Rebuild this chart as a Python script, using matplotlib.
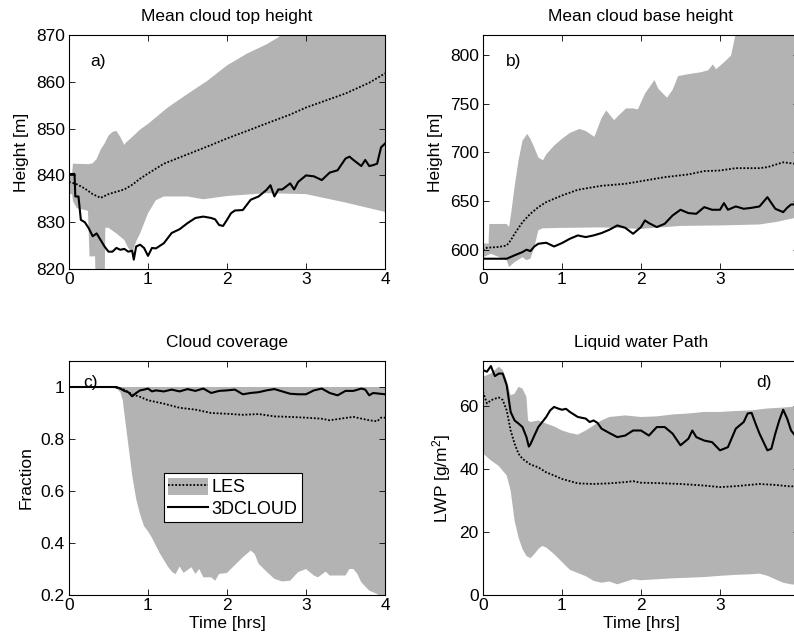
import numpy as np
import matplotlib.pyplot as plt
from matplotlib.patches import Patch
from matplotlib.lines import Line2D

plt.rcParams['font.family'] = ['Liberation Sans', 'DejaVu Sans']
plt.rcParams['mathtext.default'] = 'regular'

""" DATOS """
# a) altura media del tope de nube
t_a_les = [0, 0.1, 0.2, 0.3, 0.4, 0.5, 0.6, 0.7, 0.8, 0.9, 1.0, 1.2, 1.5, 1.8, 2.0, 2.3, 2.5, 2.8, 3.0, 3.3, 3.5, 3.8, 4.0]
a_les = [838.6, 838.1, 837.2, 836.0, 835.2, 836.0, 836.5, 837.0, 838.0, 839.3, 840.4, 842.5, 844.5, 846.5, 847.9, 849.8, 851.1, 853.0, 854.5, 856.3, 857.5, 859.8, 861.8]
t_a_up = [0, 0.04, 0.05, 0.25, 0.3, 0.35, 0.4, 0.45, 0.5, 0.55, 0.6, 0.65, 0.7, 0.72, 0.8, 0.9, 1.0, 1.25, 1.5, 1.75, 2.0, 2.25, 2.5, 2.65, 2.75, 3.0, 3.5, 4.0]
a_up = [840.5, 840.5, 842.5, 842.4, 842.6, 843.5, 845.5, 846.8, 848.5, 849.3, 849.5, 848.2, 846.5, 847.0, 848.2, 849.8, 851.0, 854.5, 857.4, 860.2, 863.5, 866.0, 868.0, 869.5, 871.0, 872.0, 875.0, 878.0]
t_a_lo = [0, 0.04, 0.05, 0.1, 0.2, 0.24, 0.26, 0.33, 0.34, 0.45, 0.46, 0.5, 0.6, 0.7, 0.75, 0.8, 0.85, 0.9, 1.0, 1.1, 1.2, 1.5, 1.7, 2.0, 2.5, 3.0, 3.5, 4.0]
a_lo = [836.0, 836.0, 834.5, 833.0, 832.6, 832.4, 822.7, 822.7, 815.0, 815.0, 828.8, 828.8, 827.6, 826.2, 824.5, 823.4, 825.9, 827.6, 831.9, 834.7, 835.5, 835.5, 834.9, 835.6, 836.2, 836.0, 834.2, 832.2]
t_a_3d = [0, 0.07, 0.08, 0.12, 0.15, 0.2, 0.25, 0.3, 0.35, 0.4, 0.45, 0.5, 0.55, 0.6, 0.65, 0.7,
          0.75, 0.8, 0.82, 0.85, 0.9, 0.95, 1.0, 1.05, 1.1, 1.2, 1.3, 1.4, 1.5, 1.6, 1.7, 1.8,
          1.85, 1.9, 1.95, 2.0, 2.05, 2.1, 2.2, 2.3, 2.4, 2.5, 2.55, 2.6, 2.65, 2.7, 2.8, 2.85,
          2.9, 3.0, 3.1, 3.2, 3.3, 3.4, 3.5, 3.55, 3.6, 3.7, 3.75, 3.8, 3.85, 3.9, 3.95, 4.0]
a_3d = [840.3, 840.3, 835.5, 835.5, 830.5, 830.0, 828.7, 827.0, 827.6, 826.2, 824.8, 823.7, 823.7, 824.5, 824.1, 824.3,
        823.7, 823.9, 822.0, 824.8, 825.2, 824.5, 822.8, 824.5, 824.4, 825.5, 827.7, 828.5, 829.8, 830.9, 831.2, 830.9,
        830.6, 829.4, 829.2, 830.5, 831.9, 832.5, 832.6, 834.8, 835.5, 836.9, 837.9, 835.5, 837.0, 837.0, 838.3, 837.0,
        838.6, 840.0, 839.8, 839.0, 840.6, 841.1, 843.6, 844.0, 843.3, 842.0, 843.3, 842.0, 842.2, 842.5, 846.0, 846.8]

# b) altura media de la base de nube
t_b_les = [0, 0.05, 0.1, 0.2, 0.3, 0.35, 0.4, 0.5, 0.6, 0.7, 0.8, 1.0, 1.2, 1.5, 1.8, 2.0, 2.3, 2.6, 2.8, 3.0, 3.2, 3.5, 3.6, 3.8, 4.0]
b_les = [600, 602.7, 603, 603.5, 605, 610.2, 617, 628.9, 637.4, 644.2, 649.3, 656.1, 661.9, 666, 668, 670.7, 674.8, 677.6, 681, 681.6, 684, 684, 685, 690, 688]
t_b_up = [0, 0.07, 0.08, 0.3, 0.33, 0.36, 0.4, 0.45, 0.5, 0.56, 0.6, 0.65, 0.7, 0.76, 0.8, 0.9, 1.0, 1.1, 1.22, 1.3, 1.41, 1.5,
          1.56, 1.66, 1.72, 1.81, 1.9, 1.96, 2.05, 2.17, 2.22, 2.33, 2.4, 2.47, 2.6, 2.76, 2.85, 2.91, 2.95, 3.05, 3.14, 3.2, 3.5, 4.0]
b_up = [607, 607, 627, 627, 624, 640, 665, 692, 712, 719, 714, 705, 695, 692, 698, 707, 714, 720, 724, 722, 716, 735,
        743, 733, 738, 745, 745, 744, 760, 774, 765, 756, 764, 778, 780, 782, 784, 790, 785, 792, 799, 822, 835, 850]
t_b_lo = [0, 0.1, 0.3, 0.33, 0.4, 0.5, 0.55, 0.6, 0.65, 0.7, 0.75, 1.0, 1.5, 2.0, 2.5, 3.0, 3.5, 3.7, 4.0]
b_lo = [593, 596.6, 590, 583, 588, 593, 590, 591.5, 603.4, 620.4, 622.5, 623.0, 623.5, 622.0, 625.0, 625.5, 626.5, 628.9, 634]
t_b_3d = [0, 0.3, 0.4, 0.5, 0.55, 0.6, 0.65, 0.7, 0.8, 0.9, 1.0, 1.1, 1.2, 1.3, 1.4, 1.5, 1.6, 1.7, 1.8, 1.9, 2.0, 2.05,
          2.1, 2.2, 2.3, 2.4, 2.5, 2.6, 2.7, 2.8, 2.9, 3.0, 3.05, 3.1, 3.2, 3.3, 3.4, 3.5, 3.6, 3.7, 3.8, 3.85, 3.9, 4.0]
b_3d = [591.5, 591.5, 595, 598.3, 600.7, 599.3, 604, 606.8, 607.8, 604, 607.5, 611.9, 615.3, 613.6, 615.3, 617.7, 621.1, 625.5, 623.1, 617, 623.8, 630.6,
        627.9, 623.8, 627.2, 635.7, 641.5, 638.1, 637.4, 644.2, 641.5, 641.5, 648.3, 641.5, 644.9, 642.5, 643.5, 644.9, 654.4, 642.5, 639.1, 643.5, 646.9, 647]

# c) cobertura de nubes
t_c_up = [0, 4]
c_up = [1.0, 1.0]
t_c_lo = [0, 0.4, 0.6, 0.65, 0.68, 0.7, 0.75, 0.8, 0.85, 0.9, 0.95, 1.0, 1.05, 1.1, 1.15, 1.2, 1.25, 1.3, 1.35, 1.4, 1.45,
          1.55, 1.6, 1.65, 1.7, 1.8, 1.85, 1.9, 2.0, 2.1, 2.2, 2.3, 2.35, 2.4, 2.5, 2.6, 2.7, 2.8, 2.9, 3.0, 3.1, 3.15,
          3.25, 3.3, 3.5, 3.55, 3.6, 3.65, 3.7, 3.8, 3.9, 3.95, 4.0]
c_lo = [1.0, 1.0, 0.995, 0.98, 0.95, 0.9, 0.78, 0.66, 0.57, 0.51, 0.465, 0.445, 0.42, 0.39, 0.36, 0.335, 0.31, 0.29, 0.28, 0.31, 0.285,
        0.307, 0.281, 0.30, 0.268, 0.268, 0.255, 0.281, 0.285, 0.315, 0.345, 0.371, 0.358, 0.32, 0.29, 0.262, 0.252, 0.255, 0.288, 0.30, 0.275, 0.268,
        0.29, 0.275, 0.275, 0.30, 0.30, 0.281, 0.249, 0.217, 0.204, 0.19, 0.19]
t_c_les = [0, 0.55, 0.65, 0.7, 0.8, 0.9, 1.0, 1.2, 1.4, 1.6, 1.8, 2.0, 2.2, 2.4, 2.6, 2.8, 3.0, 3.2, 3.3, 3.5, 3.6, 3.8, 3.9, 3.95, 4.0]
c_les = [1.0, 1.0, 0.994, 0.99, 0.972, 0.962, 0.949, 0.936, 0.92, 0.913, 0.90, 0.897, 0.893, 0.896, 0.887, 0.885, 0.882, 0.878, 0.872, 0.881, 0.885, 0.872, 0.868, 0.882, 0.882]
t_c_3d = [0, 0.6, 0.65, 0.7, 0.75, 0.8, 0.85, 0.9, 0.95, 1.0, 1.05, 1.1, 1.2, 1.3, 1.4, 1.5, 1.6, 1.7, 1.8, 1.9, 2.0,
          2.1, 2.2, 2.3, 2.4, 2.5, 2.6, 2.7, 2.8, 2.9, 3.0, 3.1, 3.2, 3.3, 3.4, 3.5, 3.6, 3.7, 3.75, 3.8, 3.85, 4.0]
c_3d = [1.0, 1.0, 0.994, 0.985, 0.98, 0.964, 0.977, 0.987, 0.99, 0.994, 0.983, 0.987, 0.983, 0.99, 0.983, 0.992, 0.985, 0.994, 0.977, 0.985, 0.987,
        0.99, 0.972, 0.977, 0.98, 0.987, 0.992, 0.983, 0.974, 0.972, 0.972, 0.987, 0.994, 0.977, 0.968, 0.985, 0.985, 0.994, 0.99, 0.968, 0.977, 0.972]

# d) camino de agua liquida
t_d_les = [0, 0.05, 0.1, 0.15, 0.2, 0.25, 0.3, 0.35, 0.4, 0.45, 0.5, 0.6, 0.7, 0.8, 0.9, 1.0, 1.2, 1.4, 1.6, 1.8, 1.9, 2.0, 2.2, 2.5, 2.8, 3.0, 3.2, 3.5, 3.7, 3.9, 4.0]
d_les = [64.6, 60.9, 61.9, 62.4, 62.8, 62.0, 58.7, 52.3, 48.1, 44.9, 43.3, 41.5, 40.6, 39.0, 38.0, 36.9, 35.5, 35.3, 35.5, 35.9, 36.2, 35.7, 35.6, 35.3, 34.8, 34.3, 34.6, 35.3, 35.0, 34.5, 34.8]
t_d_up = [0, 0.1, 0.2, 0.25, 0.3, 0.35, 0.4, 0.45, 0.5, 0.55, 0.57, 0.6, 0.7, 0.8, 0.9, 1.0, 1.1, 1.2, 1.3, 1.4, 1.5, 1.6, 1.8, 2.0, 2.2, 2.4, 2.6, 2.8, 3.0, 3.2, 3.4, 3.6, 3.8, 4.0]
d_up = [69.4, 70.4, 72.6, 71.5, 68.3, 63.5, 64.0, 66.2, 65.6, 63.0, 55.5, 55.0, 55.5, 54.5, 53.6, 52.3, 51.5, 51.0, 52.3, 53.9, 55.5, 56.6, 57.1, 56.6, 56.8, 57.4, 57.7, 58.2, 58.2, 58.5, 58.7, 59.3, 59.6, 60.0]
t_d_lo = [0, 0.1, 0.2, 0.3, 0.35, 0.4, 0.45, 0.5, 0.55, 0.6, 0.65, 0.7, 0.75, 0.8, 0.9, 1.0, 1.1, 1.2, 1.3, 1.4, 1.5, 1.6, 1.7, 1.8, 1.9, 2.0, 2.2, 2.4, 2.6, 2.8, 3.0, 3.2, 3.4, 3.5, 3.6, 3.7, 3.8, 3.9, 4.0]
d_lo = [45.0, 42.8, 41.0, 38.0, 33.2, 23.6, 18.3, 14.6, 12.4, 11.7, 13.0, 14.6, 15.6, 15.1, 13.0, 10.5, 8.0, 7.0, 6.0, 4.5, 3.9, 4.3, 3.4, 4.2, 5.0, 4.7, 5.0, 5.3, 5.5, 5.7, 6.1, 6.4, 6.6, 6.8, 6.1, 5.0, 3.9, 3.4, 3.2]
t_d_3d = [0, 0.05, 0.1, 0.15, 0.2, 0.25, 0.3, 0.35, 0.4, 0.45, 0.5, 0.55, 0.58, 0.6, 0.65, 0.7, 0.75, 0.8, 0.85, 0.9, 0.95,
          1.0, 1.05, 1.1, 1.2, 1.3, 1.35, 1.4, 1.45, 1.5, 1.6, 1.7, 1.8, 1.9, 2.0, 2.1, 2.2, 2.3, 2.4, 2.5, 2.6,
          2.65, 2.7, 2.8, 2.9, 3.0, 3.1, 3.2, 3.3, 3.35, 3.4, 3.45, 3.5, 3.6, 3.65, 3.7, 3.75, 3.8, 3.85, 3.9, 3.95, 4.0]
d_3d = [71.5, 71.0, 72.8, 69.6, 70.4, 70.4, 66.7, 58.2, 55.5, 54.5, 53.4, 50.2, 47.2, 47.9, 50.7, 53.4, 55.0, 56.6, 58.7, 59.8, 59.3,
        58.9, 59.2, 58.2, 56.6, 56.1, 55.0, 55.5, 54.7, 52.9, 51.5, 50.2, 50.7, 52.3, 52.3, 50.7, 53.4, 53.4, 51.3, 47.6, 49.7,
        52.3, 50.2, 49.1, 48.6, 46.0, 47.0, 52.9, 55.0, 57.7, 57.9, 54.5, 51.3, 46.0, 46.5, 51.3, 55.5, 58.9, 56.1, 52.3, 50.7, 51.0]

gray = '#b3b3b3'
dots = (0, (1, 1))

""" FIGURA """
fig = plt.figure(figsize=(7.94, 6.39), dpi=100)
W, H = 794, 639


def add_ax(left, top):
    return fig.add_axes([left / W, 1 - (top + 234) / H, 316 / W, 234 / H])


def draw(ax, t_up, up, t_lo, lo, t_les, les, t_3d, v3d):
    xs = np.concatenate([t_up, t_lo[::-1]])
    ys = np.concatenate([up, lo[::-1]])
    ax.fill(xs, ys, color=gray, lw=0)
    ax.plot(t_les, les, color='black', ls=dots, lw=1.3)
    ax.plot(t_3d, v3d, color='black', lw=1.5)


def style(ax, title, ylabel, xlabel=None):
    ax.set_xlim(0, 4)
    ax.set_xticks([0, 1, 2, 3, 4])
    ax.set_xticklabels(['0', '1', '2', '3', '4'])
    ax.tick_params(direction='in', top=True, right=True, length=4, width=0.6, labelsize=12.5)
    ax.tick_params(axis='x', pad=2)
    ax.tick_params(axis='y', pad=3)
    ax.set_title(title, fontsize=12.5, pad=10)
    ax.set_ylabel(ylabel, fontsize=12.5, labelpad=5)
    if xlabel:
        ax.set_xlabel(xlabel, fontsize=12.5, labelpad=2)
    for s in ax.spines.values():
        s.set_linewidth(0.8)


ax_a = add_ax(69, 35)
ax_b = add_ax(483, 35)
ax_c = add_ax(69, 361)
ax_d = add_ax(483, 361)

draw(ax_a, t_a_up, a_up, t_a_lo, a_lo, t_a_les, a_les, t_a_3d, a_3d)
style(ax_a, 'Mean cloud top height', 'Height [m]')
ax_a.set_ylim(820, 870)
ax_a.set_yticks([820, 830, 840, 850, 860, 870])
ax_a.text(0.066, 0.885, 'a)', transform=ax_a.transAxes, fontsize=12.5, va='center')

draw(ax_b, t_b_up, b_up, t_b_lo, b_lo, t_b_les, b_les, t_b_3d, b_3d)
style(ax_b, 'Mean cloud base height', 'Height [m]')
ax_b.set_ylim(581, 820)
ax_b.set_yticks([600, 650, 700, 750, 800])
ax_b.text(0.073, 0.885, 'b)', transform=ax_b.transAxes, fontsize=12.5, va='center')

draw(ax_c, t_c_up, c_up, t_c_lo, c_lo, t_c_les, c_les, t_c_3d, c_3d)
style(ax_c, 'Cloud coverage', 'Fraction', 'Time [hrs]')
ax_c.set_ylim(0.2, 1.1)
ax_c.set_yticks([0.2, 0.4, 0.6, 0.8, 1.0])
ax_c.set_yticklabels(['0.2', '0.4', '0.6', '0.8', '1'])
ax_c.text(0.045, 0.91, 'c)', transform=ax_c.transAxes, fontsize=12.5, va='center')

draw(ax_d, t_d_up, d_up, t_d_lo, d_lo, t_d_les, d_les, t_d_3d, d_3d)
style(ax_d, 'Liquid water Path', 'LWP [g/m$^2$]', 'Time [hrs]')
ax_d.set_ylim(0, 74.4)
ax_d.set_yticks([0, 20, 40, 60])
ax_d.text(0.864, 0.91, 'd)', transform=ax_d.transAxes, fontsize=12.5, va='center')

# leyenda
h_les = (Patch(facecolor=gray, edgecolor='none'), Line2D([], [], color='black', ls=dots, lw=1.3))
h_3d = Line2D([], [], color='black', lw=1.5)
leg = ax_c.legend([h_les, h_3d], ['LES', '3DCLOUD'], loc='upper left', bbox_to_anchor=(0.30, 0.521),
                  fancybox=False, edgecolor='black', framealpha=1, fontsize=13, handlelength=2.2,
                  handleheight=1.1, borderpad=0.25, labelspacing=0.15, handletextpad=0.2, borderaxespad=0)
leg.get_frame().set_linewidth(0.8)

fig.savefig('out.png', dpi=100)
